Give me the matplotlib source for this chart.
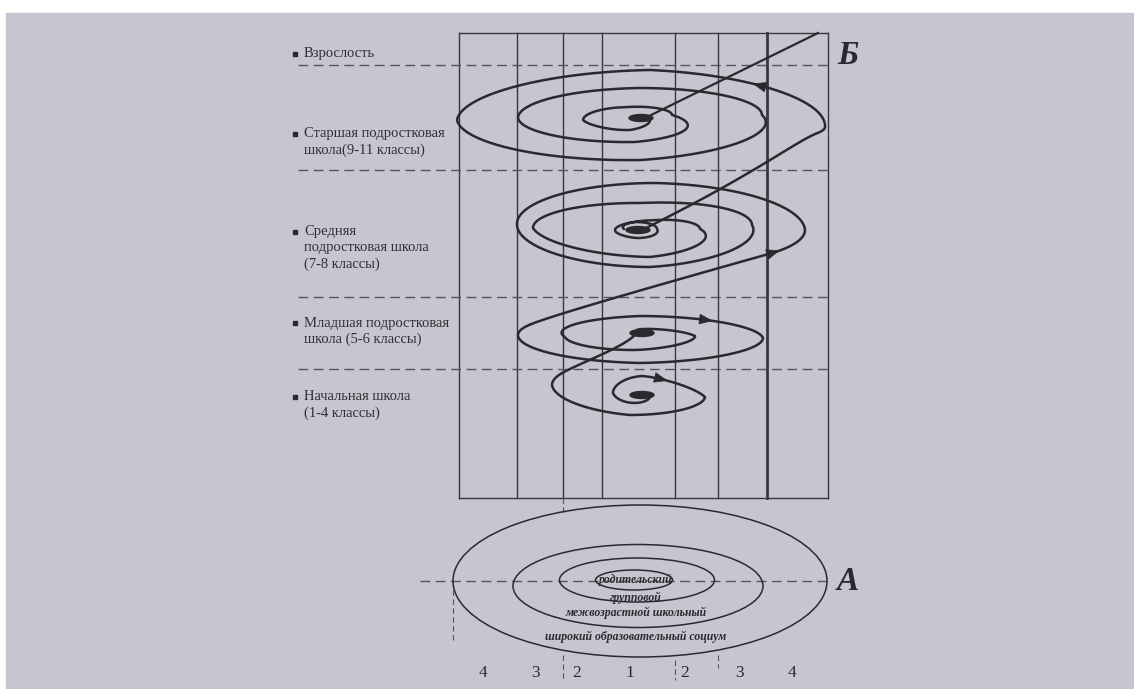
import numpy as np
import matplotlib
matplotlib.use('Agg')
import matplotlib.pyplot as plt
from matplotlib.patches import Ellipse, Rectangle

W, H = 1134, 689

# labels of the age levels (left side)
stage_labels = [
    ['Взрослость'],
    ['Старшая подростковая', 'школа(9-11 классы)'],
    ['Средняя', 'подростковая школа', '(7-8 классы)'],
    ['Младшая подростковая', 'школа (5-6 классы)'],
    ['Начальная школа', '(1-4 классы)'],
]
stage_label_y = [54, 134, 232, 323, 397]

# rings of scheme A
ring_labels = ['родительский', 'групповой', 'межвозрастной школьный',
               'широкий образовательный социум']
ring_label_y = [580, 598, 613, 637]
ring_center_x = [634, 637, 638, 640]
ring_center_y = [580, 580, 586, 581]
ring_width = [77, 155, 250, 374]
ring_height = [20, 44, 83, 152]

zone_numbers = ['4', '3', '2', '1', '2', '3', '4']
zone_number_x = [483, 535, 577, 630, 685, 740, 792]

# grid of scheme Б
column_x = [459, 517, 563, 602, 675, 718, 767, 828]
level_y = [65, 170, 297, 369]
grid_top, grid_bottom = 33, 498

# spiral keyframes: (theta, cx, cy, a, b)
spiral_1_4 = [(4 * np.pi, 640, 395, 8, 3), (3 * np.pi, 640, 393, 27, 14),
              (2.5 * np.pi, 642, 394, 30, 18), (2 * np.pi, 640, 397, 65, 18),
              (1.5 * np.pi, 630, 395, 72, 20), (np.pi, 630, 385, 78, 20),
              (np.pi - 0.5, 630, 383, 78, 20)]
spiral_5_6 = [(4.6 * np.pi, 640, 333, 10, 3), (4 * np.pi, 635, 336, 60, 10),
              (3.5 * np.pi, 636, 336, 62, 14), (3 * np.pi, 630, 337, 65, 14),
              (2.5 * np.pi, 640, 338, 110, 22), (2 * np.pi, 641, 338, 122, 22),
              (1.5 * np.pi, 640, 339, 122, 24), (np.pi, 640, 335, 122, 24),
              (np.pi - 0.45, 640, 335, 122, 24)]
spiral_7_8 = [(-0.75, 661, 226, 144, 42), (0, 661, 230, 144, 42),
              (0.5 * np.pi, 655, 226, 144, 43), (np.pi, 661, 225, 144, 42),
              (1.5 * np.pi, 650, 226, 130, 41), (2 * np.pi, 642, 225, 110, 30),
              (2.5 * np.pi, 642, 230, 110, 27), (3 * np.pi, 642, 228, 109, 27),
              (3.5 * np.pi, 650, 230, 90, 27), (4 * np.pi, 657, 229, 43, 12),
              (4.5 * np.pi, 657, 230, 42, 10), (5 * np.pi, 657, 230, 42, 9),
              (5.5 * np.pi, 640, 230, 25, 8), (6 * np.pi, 636, 229, 21, 7),
              (6.5 * np.pi, 636, 229, 21, 7), (7 * np.pi, 636, 229, 12, 4)]
spiral_9_11 = [(-0.3, 641, 120, 184, 45), (0, 641, 127, 184, 45),
               (0.5 * np.pi, 650, 118, 180, 48), (np.pi, 641, 120, 184, 45),
               (1.5 * np.pi, 641, 117, 170, 43), (2 * np.pi, 640, 115, 122, 27),
               (2.5 * np.pi, 640, 115, 122, 27), (3 * np.pi, 640, 118, 122, 27),
               (3.5 * np.pi, 635, 117, 110, 25), (4 * np.pi, 628, 115, 44, 12),
               (4.5 * np.pi, 628, 119, 44, 12), (5 * np.pi, 628, 120, 45, 12),
               (5.5 * np.pi, 630, 118, 30, 12), (6 * np.pi, 640, 118, 8, 3)]
blob_centers = [(642, 395), (642, 333), (638, 230), (641, 118)]

INK = '#2a2a2e'
SERIF = ['Liberation Serif', 'DejaVu Serif']


def spiral(keys, n=1200):
    th, cx, cy, a, b = np.array(keys, dtype=float).T
    t = np.linspace(th[0], th[-1], n)
    if th[0] > th[-1]:
        p = [np.interp(t, th[::-1], v[::-1]) for v in (cx, cy, a, b)]
    else:
        p = [np.interp(t, th, v) for v in (cx, cy, a, b)]
    return p[0] + p[2] * np.cos(t), p[1] - p[3] * np.sin(t)


def bezier(p0, p1, p2, p3, n=100):
    s = np.linspace(0, 1, n)[:, None]
    pts = (1 - s) ** 3 * p0 + 3 * (1 - s) ** 2 * s * p1 + 3 * (1 - s) * s ** 2 * p2 + s ** 3 * p3
    return pts[:, 0], pts[:, 1]


def unit(v):
    return v / np.hypot(*v)


def link(a, b, h0, h1):
    xa, ya = a
    xb, yb = b
    p0 = np.array([xa[-1], ya[-1]])
    d0 = unit(p0 - np.array([xa[-5], ya[-5]]))
    p3 = np.array([xb[0], yb[0]])
    d3 = unit(np.array([xb[4], yb[4]]) - p3)
    return bezier(p0, p0 + h0 * d0, p3 - h1 * d3, p3)


def arrow_on(ax, curve, target, step=4):
    x, y = curve
    i = np.argmin((x - target[0]) ** 2 + (y - target[1]) ** 2)
    i = int(np.clip(i, step, len(x) - step - 1))
    ax.annotate('', xy=(x[i + step], y[i + step]), xytext=(x[i - step], y[i - step]),
                arrowprops=dict(arrowstyle='-|>,head_length=0.9,head_width=0.35',
                                color=INK, lw=0.5, shrinkA=0, shrinkB=0))


fig = plt.figure(figsize=(W / 100, H / 100), dpi=100, facecolor='white')
ax = fig.add_axes([0, 0, 1, 1])
ax.set_xlim(0, W)
ax.set_ylim(H, 0)
ax.axis('off')
ax.add_patch(Rectangle((6, 13), W - 6, H - 13, color='#c7c6d0', zorder=0))

# grid
for x in column_x:
    ax.plot([x, x], [grid_top, grid_bottom], color='#38383c',
            lw=2.0 if x == 767 else 1.0, zorder=1)
for y in (grid_top, grid_bottom):
    ax.plot([column_x[0], column_x[-1]], [y, y], color='#38383c', lw=1.0, zorder=1)
for y in level_y:
    ax.plot([298, column_x[-1]], [y, y], color='#55555c', lw=1.0, ls=(0, (7, 4)), zorder=1)

# spirals
c14 = spiral(spiral_1_4)
c56 = spiral(spiral_5_6)
c78 = spiral(spiral_7_8)
c911 = spiral(spiral_9_11)
l1 = link(c14, c56, 20, 12)
l2 = link(c56, c78, 22, 120)
p3 = np.array([c911[0][0], c911[1][0]])
d3 = unit(np.array([c911[0][4], c911[1][4]]) - p3)
l3 = bezier(np.array(blob_centers[2]) + [4, 0], np.array([755, 174]), p3 - 25 * d3, p3)
for cx, cy in (c14, c56, c78, c911, l1, l2, l3):
    ax.plot(cx, cy, color=INK, lw=1.8, solid_capstyle='round', zorder=3)
ax.plot([blob_centers[3][0] + 4, 818], [blob_centers[3][1], grid_top], color=INK, lw=1.6, zorder=3)
for bx, by in blob_centers:
    ax.add_patch(Ellipse((bx, by), 24, 7, color=INK, zorder=4))

arrow_on(ax, c14, (667, 378))
arrow_on(ax, c56, (710, 317))
arrow_on(ax, c78, (770, 255))
arrow_on(ax, c911, (762, 86))

# left labels
for lines, y0 in zip(stage_labels, stage_label_y):
    ax.plot(295, y0, marker='s', ms=3, color=INK, zorder=3)
    for k, line in enumerate(lines):
        ax.text(304, y0 + k * 16, line, family=SERIF, fontsize=10.5, color='#303034',
                ha='left', va='center')

ax.text(848, 56, 'Б', family=SERIF, fontsize=24, fontstyle='italic', fontweight='bold',
        color=INK, ha='center', va='center')

# scheme A
ax.plot([420, 828], [581, 581], color='#55555c', lw=1.0, ls=(0, (7, 4)), zorder=1)
for cx, cy, w, h in zip(ring_center_x, ring_center_y, ring_width, ring_height):
    ax.add_patch(Ellipse((cx, cy), w, h, fill=False, ec=INK, lw=1.1, zorder=2))
for lab, y in zip(ring_labels, ring_label_y):
    ax.text(636, y, lab, family=SERIF, fontsize=8.5, fontstyle='italic', fontweight='bold',
            color=INK, ha='center', va='center', zorder=3)
for x, y0, y1 in ((563, 498, 515), (563, 655, 680), (675, 660, 680), (718, 655, 668), (453, 590, 640)):
    ax.plot([x, x], [y0, y1], color='#55555c', lw=0.8, ls=(0, (5, 3)), zorder=1)
for num, x in zip(zone_numbers, zone_number_x):
    ax.text(x, 673, num, family=SERIF, fontsize=12.5, color=INK, ha='center', va='center')
ax.text(848, 582, 'А', family=SERIF, fontsize=24, fontstyle='italic', fontweight='bold',
        color=INK, ha='center', va='center')

fig.savefig('out.png', dpi=100, facecolor=fig.get_facecolor())
